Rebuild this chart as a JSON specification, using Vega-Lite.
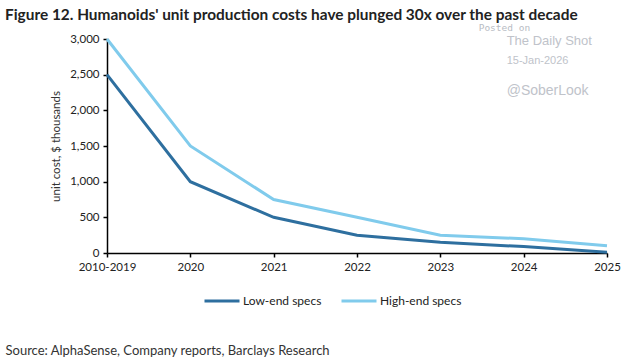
{
  "$schema": "https://vega.github.io/schema/vega-lite/v6.json",
  "width": 500,
  "height": 214,
  "autosize": {"type": "none"},
  "padding": {"left": 107, "top": 39, "right": 33, "bottom": 107},
  "background": "white",
  "config": {"view": {"stroke": null}, "font": "Lato"},
  "title": {
    "text": "Figure 12. Humanoids' unit production costs have plunged 30x over the past decade",
    "anchor": "start",
    "frame": "group",
    "dx": -102,
    "dy": 18.5,
    "offset": 18,
    "font": "Lato",
    "fontSize": 15.4,
    "fontWeight": "bold",
    "color": "#222222"
  },
  "datasets": {
    "costs": [
      {"period": "2010-2019", "series": "Low-end specs", "cost": 2500},
      {"period": "2020", "series": "Low-end specs", "cost": 1000},
      {"period": "2021", "series": "Low-end specs", "cost": 500},
      {"period": "2022", "series": "Low-end specs", "cost": 250},
      {"period": "2023", "series": "Low-end specs", "cost": 150},
      {"period": "2024", "series": "Low-end specs", "cost": 90},
      {"period": "2025", "series": "Low-end specs", "cost": 10},
      {"period": "2010-2019", "series": "High-end specs", "cost": 3000},
      {"period": "2020", "series": "High-end specs", "cost": 1500},
      {"period": "2021", "series": "High-end specs", "cost": 750},
      {"period": "2022", "series": "High-end specs", "cost": 500},
      {"period": "2023", "series": "High-end specs", "cost": 250},
      {"period": "2024", "series": "High-end specs", "cost": 200},
      {"period": "2025", "series": "High-end specs", "cost": 100}
    ],
    "posted": [{"period": "2024", "cost": 3160, "label": "Posted on"}],
    "shot": [{"period": "2024", "cost": 2970, "label": "The Daily Shot"}],
    "date": [{"period": "2024", "cost": 2692, "label": "15-Jan-2026"}],
    "handle": [{"period": "2024", "cost": 2271, "label": "@SoberLook"}]
  },
  "encoding": {
    "x": {
      "field": "period",
      "type": "ordinal",
      "scale": {"type": "point", "padding": 0, "domain": ["2010-2019", "2020", "2021", "2022", "2023", "2024", "2025"]},
      "axis": {
        "title": "Source: AlphaSense, Company reports, Barclays Research",
        "titleX": -102,
        "titleY": 97,
        "titleAlign": "left",
        "titleBaseline": "middle",
        "titleFont": "Lato",
        "titleFontSize": 13,
        "titleFontWeight": "normal",
        "titleColor": "#333333",
        "labelAngle": 0,
        "labelFont": "Lato",
        "labelFontSize": 11.5,
        "labelColor": "#222222",
        "labelPadding": 4,
        "domainColor": "#000000",
        "domainWidth": 1.5,
        "tickColor": "#000000",
        "tickSize": 4,
        "tickWidth": 1.5,
        "grid": false
      }
    },
    "y": {
      "field": "cost",
      "type": "quantitative",
      "scale": {"domain": [0, 3000], "nice": false},
      "axis": {
        "title": "unit cost, $ thousands",
        "values": [0, 500, 1000, 1500, 2000, 2500, 3000],
        "format": ",.0f",
        "labelOverlap": false,
        "titleFont": "Lato",
        "titleFontSize": 11.5,
        "titleFontWeight": "normal",
        "titleColor": "#333333",
        "titlePadding": 8,
        "labelFont": "Lato",
        "labelFontSize": 11.5,
        "labelColor": "#222222",
        "labelPadding": 4,
        "domainColor": "#000000",
        "domainWidth": 1.5,
        "tickColor": "#000000",
        "tickSize": 4,
        "tickWidth": 1.5,
        "grid": false
      }
    }
  },
  "layer": [
    {
      "data": {"name": "costs"},
      "mark": {"type": "line", "strokeWidth": 3},
      "encoding": {
        "color": {
          "field": "series",
          "type": "nominal",
          "scale": {"domain": ["Low-end specs", "High-end specs"], "range": ["#2e6f9f", "#80cbec"]},
          "legend": {
            "title": null,
            "orient": "none",
            "direction": "horizontal",
            "legendX": 96,
            "legendY": 243,
            "symbolType": "stroke",
            "symbolSize": 1225,
            "symbolStrokeWidth": 3,
            "labelFont": "Lato",
            "labelFontSize": 12,
            "labelColor": "#222222",
            "labelOffset": 2,
            "columnPadding": 13
          }
        }
      }
    },
    {
      "data": {"name": "posted"},
      "mark": {"type": "text", "align": "left", "baseline": "middle", "color": "#b8bcc4", "dx": -45, "font": "DejaVu Sans Mono", "fontSize": 9.5},
      "encoding": {"text": {"field": "label"}}
    },
    {
      "data": {"name": "shot"},
      "mark": {"type": "text", "align": "left", "baseline": "middle", "color": "#c0c3ca", "dx": -17, "font": "Liberation Sans", "fontSize": 13},
      "encoding": {"text": {"field": "label"}}
    },
    {
      "data": {"name": "date"},
      "mark": {"type": "text", "align": "left", "baseline": "middle", "color": "#c0c3ca", "dx": -17, "font": "Liberation Sans", "fontSize": 11},
      "encoding": {"text": {"field": "label"}}
    },
    {
      "data": {"name": "handle"},
      "mark": {"type": "text", "align": "left", "baseline": "middle", "color": "#c0c3ca", "dx": -17, "font": "Liberation Sans", "fontSize": 14},
      "encoding": {"text": {"field": "label"}}
    }
  ]
}
